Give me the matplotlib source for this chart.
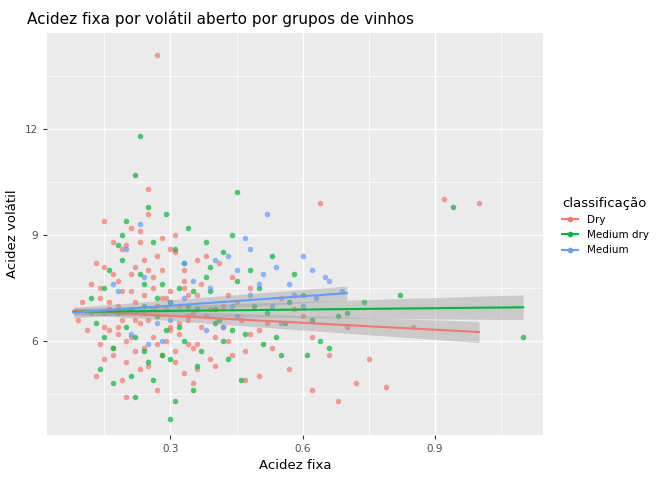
import matplotlib.pyplot as plt
import numpy as np
from matplotlib.lines import Line2D

# points (estimated, dense core thinned)
dry_x = [0.27,0.92,1.00,0.79,0.62,0.25,0.64,0.12,0.14,0.15,0.16,0.17,0.18,0.19,0.20,0.21,0.22,0.23,0.24,
         0.25,0.26,0.27,0.28,0.29,0.30,0.31,0.32,0.33,0.34,0.35,0.36,0.37,0.38,0.40,0.42,0.44,0.46,0.48,0.50,
         0.13,0.15,0.17,0.19,0.21,0.23,0.25,0.27,0.29,0.31,0.33,0.35,0.37,0.39,0.41,0.43,0.45,0.47,0.52,0.55,
         0.14,0.16,0.18,0.20,0.22,0.24,0.26,0.28,0.30,0.32,0.34,0.36,0.38,0.40,0.44,0.48,0.53,0.58,0.66,0.70,
         0.11,0.13,0.15,0.17,0.19,0.21,0.23,0.25,0.27,0.29,0.31,0.33,0.35,0.39,0.43,0.47,0.57,0.60,0.68,0.75,
         0.12,0.14,0.16,0.18,0.20,0.22,0.24,0.26,0.28,0.30,0.32,0.34,0.36,0.42,0.50,0.62,0.72,0.85,0.10,0.09,
         0.15,0.18,0.21,0.24,0.27,0.30,0.33,0.36,0.20,0.23,0.26,0.17,0.19,0.22,0.25,0.28,0.31,0.34]
dry_y = [14.1,10.0,9.9,4.7,4.6,10.3,9.9,6.8,7.2,8.1,6.3,5.6,7.7,8.6,6.0,9.2,7.1,5.2,8.3,
         6.6,7.8,5.9,8.9,6.9,7.4,5.4,6.2,8.0,6.7,5.8,7.3,6.4,8.4,6.1,7.0,5.6,6.6,7.5,6.3,
         5.0,9.4,8.8,4.9,7.9,6.5,9.6,4.6,7.2,8.5,5.1,6.8,7.6,5.5,8.2,6.0,7.1,4.9,6.5,7.2,
         7.5,6.9,6.2,8.7,5.7,7.3,6.1,8.0,6.4,7.0,5.9,8.3,6.7,5.3,7.8,6.2,5.8,6.9,5.6,6.4,
         6.3,8.2,5.5,7.9,6.6,7.4,8.8,5.3,7.0,6.0,9.0,7.7,4.8,6.9,7.3,5.7,5.2,6.7,4.3,5.5,
         7.6,5.9,7.1,6.4,5.4,8.1,6.8,7.5,5.6,8.6,6.5,7.3,5.9,6.4,5.0,6.1,4.8,6.4,7.1,6.6,
         6.4,7.0,6.1,5.8,8.4,6.3,7.5,5.2,4.4,9.1,6.9,5.8,7.4,6.6,8.0,7.2,5.7,6.6]
mdry_x = [0.23,0.22,0.30,0.94,1.10,0.45,0.74,0.13,0.15,0.17,0.19,0.21,0.23,0.25,0.27,0.29,0.31,0.33,
          0.35,0.37,0.39,0.41,0.43,0.45,0.47,0.49,0.51,0.53,0.56,0.60,0.64,0.68,0.14,0.16,0.18,0.20,
          0.22,0.24,0.26,0.28,0.30,0.32,0.34,0.36,0.38,0.40,0.42,0.44,0.46,0.50,0.54,0.58,0.62,0.66,
          0.12,0.15,0.18,0.21,0.24,0.27,0.30,0.33,0.36,0.39,0.42,0.48,0.52,0.57,0.61,0.70,0.82,0.22,
          0.26,0.29,0.35,0.38,0.31,0.25,0.19,0.17,0.28,0.34,0.40,0.44,0.55,0.20,0.24,0.32]
mdry_y = [11.8,10.7,3.8,9.8,6.1,10.2,7.1,6.5,7.5,5.8,8.3,6.9,7.9,5.4,7.2,6.3,8.6,6.0,
          7.4,5.7,8.1,6.6,5.5,7.7,6.2,7.0,5.9,8.4,6.5,7.3,6.0,6.7,5.2,8.0,6.8,9.4,
          6.1,7.6,8.8,5.6,7.1,6.4,9.2,5.3,7.8,6.9,8.5,6.3,4.9,7.5,6.1,7.9,6.6,5.8,
          7.2,6.1,8.7,5.0,7.0,6.7,5.5,8.2,6.9,7.4,6.0,8.0,6.8,7.1,5.6,6.8,7.3,4.4,
          4.9,9.6,4.6,8.8,4.3,9.8,9.0,4.8,7.6,7.0,6.5,9.0,5.6,6.4,5.7,7.5]
med_x = [0.15,0.18,0.21,0.24,0.27,0.30,0.33,0.36,0.39,0.42,0.45,0.48,0.51,0.54,0.57,0.60,0.63,0.66,
         0.69,0.20,0.25,0.30,0.35,0.40,0.45,0.50,0.55,0.60,0.65,0.17,0.23,0.28,0.33,0.38,0.43,0.48,
         0.53,0.58,0.62,0.47,0.52,0.44]
med_y = [6.8,7.4,6.2,7.8,6.5,7.1,8.2,6.9,7.5,6.4,8.0,7.3,7.9,8.1,7.6,8.4,7.2,7.7,
         7.4,8.6,5.9,6.6,7.7,8.3,6.7,7.6,6.5,7.0,7.8,7.6,9.3,6.0,7.2,6.3,8.4,8.6,
         7.0,7.3,8.0,8.9,9.6,7.0]

# fitted lines (endpoints) and confidence half-widths at ends
dry_fit_x = [0.08, 1.00]
dry_fit_y = [6.85, 6.25]
dry_ci = [0.08, 0.30]
mdry_fit_x = [0.08, 1.10]
mdry_fit_y = [6.82, 6.95]
mdry_ci = [0.10, 0.35]
med_fit_x = [0.08, 0.70]
med_fit_y = [6.80, 7.35]
med_ci = [0.15, 0.20]

RED, GREEN, BLUE = "#F8766D", "#00BA38", "#619CFF"

fig = plt.figure(figsize=(6.72, 4.80), dpi=100)
ax = fig.add_axes([0.07, 0.094, 0.738, 0.838])
ax.set_facecolor("#EBEBEB")
for s in ax.spines.values():
    s.set_visible(False)
ax.set_xlim(0.02, 1.145)
ax.set_ylim(3.34, 14.72)
ax.set_xticks([0.3, 0.6, 0.9])
ax.set_xticklabels(["0.3", "0.6", "0.9"])
ax.set_yticks([6, 9, 12])
ax.set_xticks([0.15, 0.45, 0.75, 1.05], minor=True)
ax.set_yticks([4.5, 7.5, 10.5, 13.5], minor=True)
ax.grid(True, which="major", color="white", lw=1.0)
ax.grid(True, which="minor", color="white", lw=0.5)
ax.set_axisbelow(True)
ax.tick_params(which="both", length=3, color="#333333", labelsize=7.5, labelcolor="#4D4D4D")
ax.tick_params(which="minor", length=0)

ax.scatter(dry_x, dry_y, s=16, color=RED, alpha=0.7, lw=0)
ax.scatter(mdry_x, mdry_y, s=16, color=GREEN, alpha=0.7, lw=0)
ax.scatter(med_x, med_y, s=16, color=BLUE, alpha=0.7, lw=0)

for fx, fy, ci, c in [(dry_fit_x, dry_fit_y, dry_ci, RED),
                      (mdry_fit_x, mdry_fit_y, mdry_ci, GREEN),
                      (med_fit_x, med_fit_y, med_ci, BLUE)]:
    fy = np.array(fy)
    ci = np.array(ci)
    ax.fill_between(fx, fy - ci, fy + ci, color="#999999", alpha=0.4, lw=0)
    ax.plot(fx, fy, color=c, lw=1.5)

leg_h = [Line2D([], [], color=c, lw=1.5, marker="o", markersize=3) for c in (RED, GREEN, BLUE)]
leg = fig.legend(leg_h, ["Dry", "Medium dry", "Medium"], title="classificação",
                 loc="upper left", bbox_to_anchor=(0.822, 0.61), frameon=False,
                 fontsize=7.5, title_fontsize=9.5, handlelength=1.6)
leg._legend_box.align = "left"

ax.set_xlabel("Acidez fixa", fontsize=9.5)
ax.set_ylabel("Acidez volátil", fontsize=9.5)
ax.set_title("Acidez fixa por volátil aberto por grupos de vinhos", fontsize=11, loc="left", x=-0.04)
fig.savefig("out.png", dpi=100)
